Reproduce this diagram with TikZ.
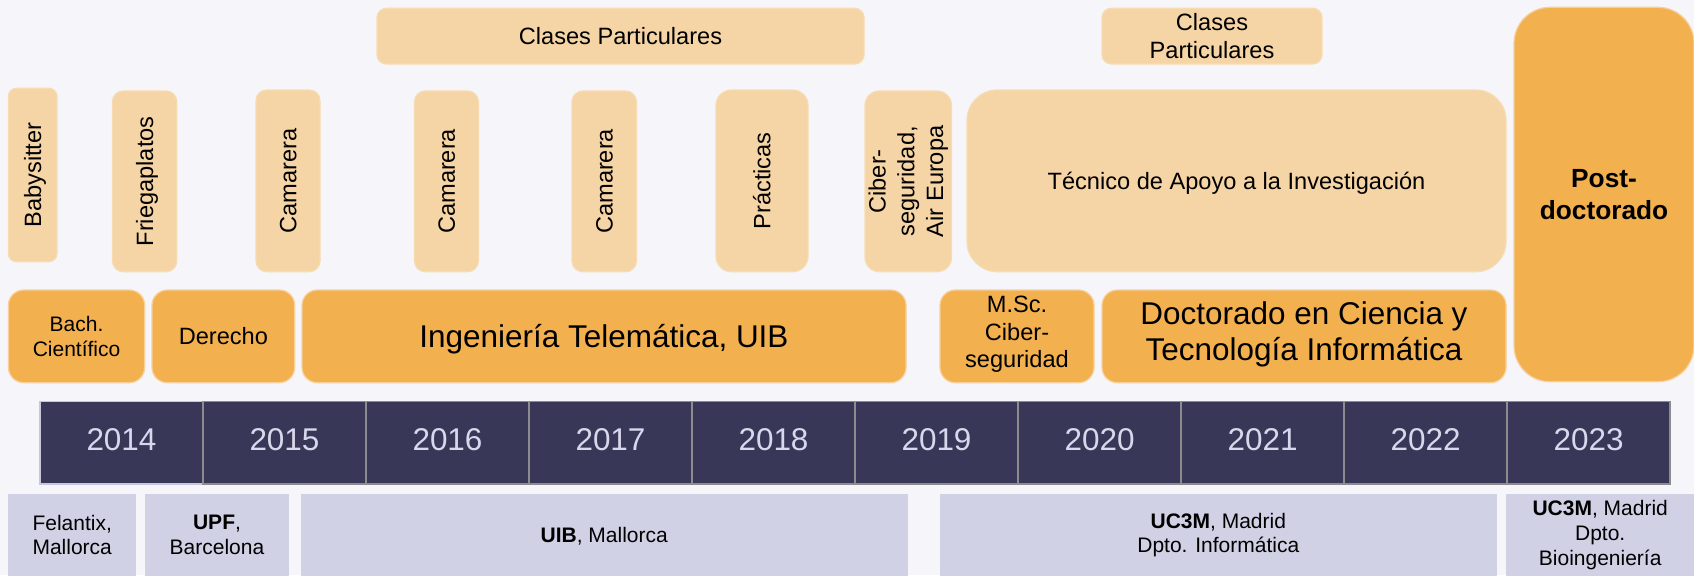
\documentclass[tikz,border=0pt]{standalone}
\usepackage{fontspec}
\setmainfont{Liberation Sans}
\usetikzlibrary{calc}
\definecolor{bgc}{HTML}{F5F5FA}
\definecolor{lor}{HTML}{F5D4A5}
\definecolor{lorb}{HTML}{F7DCB2}
\definecolor{orn}{HTML}{F2B04F}
\definecolor{ornb}{HTML}{F7D09A}
\definecolor{navy}{HTML}{393758}
\definecolor{yeartxt}{HTML}{D8D8EC}
\definecolor{locc}{HTML}{D1D1E6}
\definecolor{cellb}{HTML}{8C8C8C}
\definecolor{cellbl}{HTML}{C6C6DE}
\newcommand\fA{\fontsize{17.7pt}{20.8pt}\selectfont}
\newcommand\fAw{\fontsize{17.7pt}{21.6pt}\selectfont}
\newcommand\fB{\fontsize{23.6pt}{27.5pt}\selectfont}
\newcommand\fC{\fontsize{19.7pt}{23.8pt}\selectfont\bfseries}
\newcommand\fD{\fontsize{15.75pt}{18.6pt}\selectfont}
\newcommand\tlbox[6]{%
  \pgfmathsetmacro\tlw{(#4-#2)*0.75}%
  \pgfmathsetmacro\tlh{(#5-#3)*0.75}%
  \pgfmathsetmacro\tlr{min(\tlw,\tlh)/6}%
  \node[rounded corners=\tlr pt, minimum width=\tlw pt, minimum height=\tlh pt, #6] (#1) at ({(#2+#4)/2},{(#3+#5)/2}) {};%
}
\begin{document}
\begin{tikzpicture}[x=0.75pt,y=-0.75pt,
  box/.style={inner sep=0pt, outer sep=0pt, line width=0.9pt},
  lightbox/.style={box, fill=lor, draw=lorb},
  orangebox/.style={box, fill=orn, draw=ornb},
  locbox/.style={box, fill=locc, rounded corners=0pt},
  yearcell/.style={box, fill=navy, draw=cellb, line width=1.1pt, rounded corners=0pt},
  txt/.style={inner sep=0pt, outer sep=0pt, align=center, text=black},
  sA/.style={txt, font=\fA, text height=12.7pt, text depth=0pt},
  mA/.style={txt, font=\fA},
  vA/.style={sA, rotate=90},
  mvA/.style={txt, font=\fAw, rotate=90},
  sB/.style={txt, font=\fB, text height=16.9pt, text depth=0pt},
  mB/.style={txt, font=\fB},
  mC/.style={txt, font=\fC},
  sD/.style={txt, font=\fD, text height=11.3pt, text depth=0pt},
  mD/.style={txt, font=\fD},
  yeartext/.style={txt, font=\fB, text=yeartxt, text height=16.9pt, text depth=0pt}
]
\useasboundingbox (0,0) rectangle (1694,575);
\fill[bgc] (0,0) rectangle (1694,575);

% --- tutoring ---
\tlbox{clases1}{377}{8.3}{864}{64}{lightbox}
\node[sA] (clases1-t) at (clases1.center) {Clases Particulares};
\tlbox{clases2}{1102}{8.3}{1322}{64}{lightbox}
\node[mA] (clases2-t) at (clases2.center) {Clases\\Particulares};

% --- jobs ---
\tlbox{baby}{8.4}{88.3}{57}{261.7}{lightbox}
\node[vA] (baby-t) at (baby.center) {Babysitter};
\tlbox{frieg}{112.5}{91}{176.8}{271.7}{lightbox}
\node[vA] (frieg-t) at (frieg.center) {Friegaplatos};
\tlbox{cam1}{256}{90}{320}{271.7}{lightbox}
\node[vA] (cam1-t) at (cam1.center) {Camarera};
\tlbox{cam2}{414.5}{91}{478.4}{271.7}{lightbox}
\node[vA] (cam2-t) at (cam2.center) {Camarera};
\tlbox{cam3}{572}{91}{636.5}{271.7}{lightbox}
\node[vA] (cam3-t) at (cam3.center) {Camarera};
\tlbox{prac}{716}{90}{808}{271.7}{lightbox}
\node[vA] (prac-t) at (prac.center) {Prácticas};
\tlbox{ciber}{865}{91}{951.5}{271.7}{lightbox}
\node[mvA] (ciber-t) at (ciber.center) {Ciber-\\seguridad,\\Air Europa};
\tlbox{tecnico}{967}{90}{1506}{271.7}{lightbox}
\node[sA] (tecnico-t) at (tecnico.center) {Técnico de Apoyo a la Investigación};
\tlbox{postdoc}{1514}{7.3}{1694}{381.7}{orangebox, rounded corners=27pt}
\node[mC] (postdoc-t) at (postdoc.center) {Post-\\doctorado};

% --- studies ---
\tlbox{bach}{8.4}{290}{144.7}{382.7}{orangebox}
\node[mD] (bach-t) at (bach.center) {Bach.\\Científico};
\tlbox{derecho}{152}{290}{294.7}{382.7}{orangebox}
\node[sA] (derecho-t) at (derecho.center) {Derecho};
\tlbox{ing}{302}{290}{906}{382.7}{orangebox}
\node[sB] (ing-t) at (ing.center) {Ingeniería Telemática, UIB};
\tlbox{msc}{940}{290}{1094}{382.7}{orangebox}
\node[mA] (msc-t) at ([yshift=1.5pt]msc.center) {M.Sc.\\Ciber-\\seguridad};
\tlbox{doct}{1102}{290}{1506}{382.7}{orangebox}
\node[mB] (doct-t) at ([yshift=1.5pt]doct.center) {Doctorado en Ciencia y\\Tecnología Informática};

% --- years ---
\node[yearcell, draw=cellbl, minimum width=122.25pt, minimum height=61.7pt] (y2014) at (121.5,442.85) {};
\node[yeartext] (t2014) at ([yshift=2.9pt]y2014.center) {2014};
\foreach \i in {1,...,9}{
  \pgfmathtruncatemacro\yr{2014+\i}
  \node[yearcell, minimum width=122.25pt, minimum height=61.7pt] (y\yr) at ({121.5+163*\i},442.85) {};
  \node[yeartext] (t\yr) at ([yshift=2.9pt]y\yr.center) {\yr};
}

% --- places ---
\tlbox{felantix}{8.4}{494}{136}{576}{locbox}
\node[mD] (felantix-t) at (felantix.center) {Felantix,\\Mallorca};
\tlbox{upf}{145}{494}{289}{576}{locbox}
\node[mD] (upf-t) at (upf.center) {\textbf{UPF},\\Barcelona};
\tlbox{uib}{301}{494}{907.5}{576}{locbox}
\node[sD] (uib-t) at (uib.center) {\textbf{UIB}, Mallorca};
\tlbox{uc3m}{940}{494}{1496.6}{576}{locbox}
\node[mD] (uc3m-t) at (uc3m.center) {\textbf{UC3M}, Madrid\\Dpto. Informática};
\tlbox{bioing}{1506.4}{494}{1694}{576}{locbox}
\node[mD] (bioing-t) at (bioing.center) {\textbf{UC3M}, Madrid\\Dpto.\\Bioingeniería};
\end{tikzpicture}
\end{document}
